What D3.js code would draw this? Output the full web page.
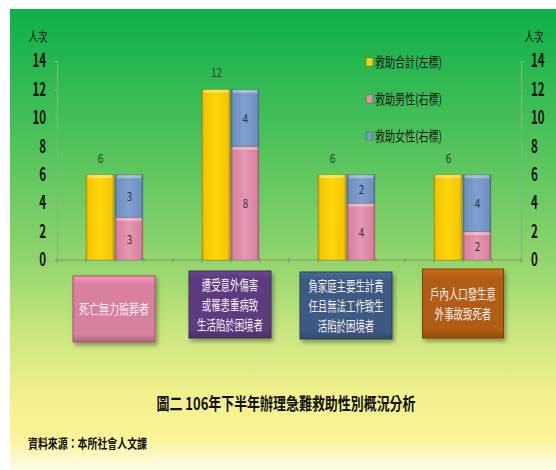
<!DOCTYPE html>
<html lang="zh-Hant">
<head>
<meta charset="UTF-8">
<title>106年下半年辦理急難救助性別概況分析</title>
<script src="https://d3js.org/d3.v7.min.js"></script>
<style>
  html, body { margin: 0; padding: 0; background: #fff; }
  svg { display: block; }
  text { font-family: "Noto Sans CJK TC", "Noto Sans", sans-serif; }
  .tick text { font-weight: bold; fill: #111; }
  .box-label { fill: #f6f0f4; font-size: 14px; }
  .val { fill: #333; font-size: 12px; }
</style>
</head>
<body>
<svg id="chart" width="556" height="470"></svg>
<script>
  // data
  const categories = ['死亡無力殮葬者', '遭受意外傷害或罹患重病致生活陷於困境者', '負家庭主要生計責任且無法工作致生活陷於困境者', '戶內人口發生意外事故致死者'];
  const categoryLines = [
    ['死亡無力殮葬者'],
    ['遭受意外傷害', '或罹患重病致', '生活陷於困境者'],
    ['負家庭主要生計責', '任且無法工作致生', '活陷於困境者'],
    ['戶內人口發生意', '外事故致死者']
  ];
  const totalValues = [6, 12, 6, 6];   // 救助合計(左標)
  const maleValues = [3, 8, 4, 2];     // 救助男性(右標)
  const femaleValues = [3, 4, 2, 4];   // 救助女性(右標)
  const seriesNames = ['救助合計(左標)', '救助男性(右標)', '救助女性(右標)'];
  const yTicks = [0, 2, 4, 6, 8, 10, 12, 14];
  const boxColors = ['#d97f9f', '#5b3a80', '#3c5a82', '#b25d12'];

  const svg = d3.select('#chart');
  const defs = svg.append('defs');

  // background panel gradient
  const bg = defs.append('linearGradient').attr('id', 'bg')
    .attr('x1', 0).attr('y1', 0).attr('x2', 0).attr('y2', 1);
  [[0, '#0cb04a'], [0.25, '#45bf58'], [0.54, '#90d46c'], [0.7, '#c9e67f'],
   [0.83, '#f0f08c'], [0.93, '#fcf497'], [1, '#fffce8']].forEach(s =>
    bg.append('stop').attr('offset', s[0]).attr('stop-color', s[1]));

  svg.append('rect').attr('x', 10).attr('y', 9).attr('width', 546).attr('height', 461)
    .attr('fill', 'url(#bg)');

  // bar gradients (bevelled look)
  function barGradient(id, light, mid, dark) {
    const g = defs.append('linearGradient').attr('id', id)
      .attr('x1', 0).attr('y1', 0).attr('x2', 1).attr('y2', 0);
    g.append('stop').attr('offset', 0).attr('stop-color', dark);
    g.append('stop').attr('offset', 0.08).attr('stop-color', mid);
    g.append('stop').attr('offset', 0.5).attr('stop-color', light);
    g.append('stop').attr('offset', 0.92).attr('stop-color', mid);
    g.append('stop').attr('offset', 1).attr('stop-color', dark);
  }
  barGradient('gTotal', '#ffd70a', '#f4c400', '#c99a00');
  barGradient('gMale', '#e597b3', '#d9809f', '#a95a78');
  barGradient('gFemale', '#7e9fcf', '#6e8fc0', '#4d6a98');

  const filt = defs.append('filter').attr('id', 'shadow')
    .attr('x', '-20%').attr('y', '-20%').attr('width', '150%').attr('height', '150%');
  filt.append('feDropShadow').attr('dx', 2).attr('dy', 3).attr('stdDeviation', 2)
    .attr('flood-color', '#000').attr('flood-opacity', 0.35);

  boxColors.forEach((c, i) => {
    const g = defs.append('linearGradient').attr('id', 'box' + i)
      .attr('x1', 0).attr('y1', 0).attr('x2', 0).attr('y2', 1);
    g.append('stop').attr('offset', 0).attr('stop-color', d3.color(c).brighter(0.5));
    g.append('stop').attr('offset', 0.12).attr('stop-color', c);
    g.append('stop').attr('offset', 0.88).attr('stop-color', c);
    g.append('stop').attr('offset', 1).attr('stop-color', d3.color(c).darker(0.6));
  });

  // scales
  const x = d3.scaleBand().domain(categories).range([57, 521]);
  const bw = x.bandwidth();
  const y = d3.scaleLinear().domain([0, 14]).range([260, 61]);
  const q = d3.scaleLinear().domain([0, 16]).range([57, 521]);

  // axes
  const leftAxis = svg.append('g').attr('transform', 'translate(57,0)')
    .call(d3.axisLeft(y).tickValues(yTicks).tickSize(3).tickPadding(8));
  const rightAxis = svg.append('g').attr('transform', 'translate(521,0)')
    .call(d3.axisRight(y).tickValues(yTicks).tickSize(3).tickPadding(7));
  [leftAxis, rightAxis].forEach(a => {
    a.select('.domain').attr('stroke', '#7fb87a').attr('stroke-width', 1);
    a.selectAll('.tick line').attr('stroke', '#7fb87a');
    a.selectAll('.tick text').style('font-size', '18px')
      .attr('textLength', d => String(d).length * 6.8)
      .attr('lengthAdjust', 'spacingAndGlyphs');
  });

  svg.append('g').selectAll('line').data(d3.range(0, 17)).join('line')
    .attr('x1', d => q(d)).attr('x2', d => q(d))
    .attr('y1', y(0) - 2).attr('y2', y(0) + 3)
    .attr('stroke', '#7a9a70');
  svg.append('line').attr('x1', 57).attr('x2', 521).attr('y1', y(0)).attr('y2', y(0))
    .attr('stroke', '#7a9a70').attr('stroke-width', 1.2);

  [[38, '人次'], [534, '人次']].forEach(d => {
    svg.append('text').attr('x', d[0]).attr('y', 41).attr('text-anchor', 'middle')
      .style('font-size', '13px').attr('fill', '#111')
      .attr('textLength', 19).attr('lengthAdjust', 'spacingAndGlyphs').text(d[1]);
  });

  // bars
  const barW = bw / 4;
  function drawBar(x0, y0, y1, fill) {
    svg.append('rect').attr('x', x0).attr('y', y1).attr('width', barW - 1)
      .attr('height', y0 - y1).attr('fill', fill)
      .attr('stroke', 'rgba(90,70,40,0.35)').attr('stroke-width', 0.6);
    svg.append('rect').attr('x', x0 + 1.5).attr('y', y1 + 0.5).attr('width', barW - 4)
      .attr('height', 3).attr('fill', '#fff').attr('opacity', 0.35);
  }

  categories.forEach((c, i) => {
    const xt = x(c) + bw / 4;
    const xs = x(c) + bw / 2;
    drawBar(xt, y(0), y(totalValues[i]), 'url(#gTotal)');
    drawBar(xs, y(0), y(maleValues[i]), 'url(#gMale)');
    drawBar(xs, y(maleValues[i]), y(maleValues[i] + femaleValues[i]), 'url(#gFemale)');

    svg.append('text').attr('class', 'val').attr('fill', '#2f4a2f')
      .attr('x', xt + barW / 2).attr('y', y(totalValues[i]) - 12)
      .attr('text-anchor', 'middle')
      .attr('textLength', String(totalValues[i]).length * 5.5).attr('lengthAdjust', 'spacingAndGlyphs')
      .text(totalValues[i]);
    svg.append('text').attr('class', 'val')
      .attr('x', xs + barW / 2).attr('y', (y(0) + y(maleValues[i])) / 2 + 5)
      .attr('text-anchor', 'middle')
      .attr('textLength', 5.5).attr('lengthAdjust', 'spacingAndGlyphs')
      .text(maleValues[i]);
    svg.append('text').attr('class', 'val')
      .attr('x', xs + barW / 2)
      .attr('y', (y(maleValues[i]) + y(maleValues[i] + femaleValues[i])) / 2 + 5)
      .attr('text-anchor', 'middle')
      .attr('textLength', 5.5).attr('lengthAdjust', 'spacingAndGlyphs')
      .text(femaleValues[i]);
  });

  // category boxes
  const boxW = [82, 82, 92, 81];
  const boxTop = [276, 271, 272, 269];
  const boxBottom = [342, 338, 339, 338];
  categories.forEach((c, i) => {
    const cx = x(c) + bw / 2 - (i === 0 ? 1 : (i === 1 ? 1 : (i === 2 ? 1 : 0)));
    const g = svg.append('g');
    g.append('rect').attr('x', cx - boxW[i] / 2).attr('y', boxTop[i])
      .attr('width', boxW[i]).attr('height', boxBottom[i] - boxTop[i])
      .attr('fill', 'url(#box' + i + ')')
      .attr('stroke', d3.color(boxColors[i]).darker(1)).attr('stroke-width', 1)
      .attr('filter', 'url(#shadow)');
    const lines = categoryLines[i];
    const mid = (boxTop[i] + boxBottom[i]) / 2;
    lines.forEach((t, k) => {
      g.append('text').attr('class', 'box-label')
        .attr('x', cx).attr('y', mid + (k - (lines.length - 1) / 2) * 20 + 5)
        .attr('text-anchor', 'middle')
        .attr('textLength', t.length * (i === 0 ? 10 : 9.4)).attr('lengthAdjust', 'spacingAndGlyphs')
        .text(t);
    });
  });

  // legend
  const legendColors = ['url(#gTotal)', 'url(#gMale)', 'url(#gFemale)'];
  const legend = svg.append('g');
  seriesNames.forEach((s, i) => {
    const ly = 62 + i * 37;
    legend.append('rect').attr('x', 366).attr('y', ly - 4).attr('width', 7).attr('height', 8)
      .attr('fill', legendColors[i]).attr('stroke', 'rgba(60,60,60,0.5)').attr('stroke-width', 0.5);
    legend.append('text').attr('x', 375).attr('y', ly + 5)
      .style('font-size', '14px').attr('fill', '#151515')
      .attr('textLength', 67).attr('lengthAdjust', 'spacingAndGlyphs').text(s);
  });

  // title and source
  svg.append('text').attr('x', 286).attr('y', 410).attr('text-anchor', 'middle')
    .style('font-size', '17px').style('font-weight', 'bold').attr('fill', '#111')
    .attr('textLength', 259).attr('lengthAdjust', 'spacingAndGlyphs')
    .text('圖二 106年下半年辦理急難救助性別概況分析');
  svg.append('text').attr('x', 28).attr('y', 448)
    .style('font-size', '13px').style('font-weight', 'bold').attr('fill', '#111')
    .attr('textLength', 119).attr('lengthAdjust', 'spacingAndGlyphs')
    .text('資料來源：本所社會人文課');
</script>
</body>
</html>
